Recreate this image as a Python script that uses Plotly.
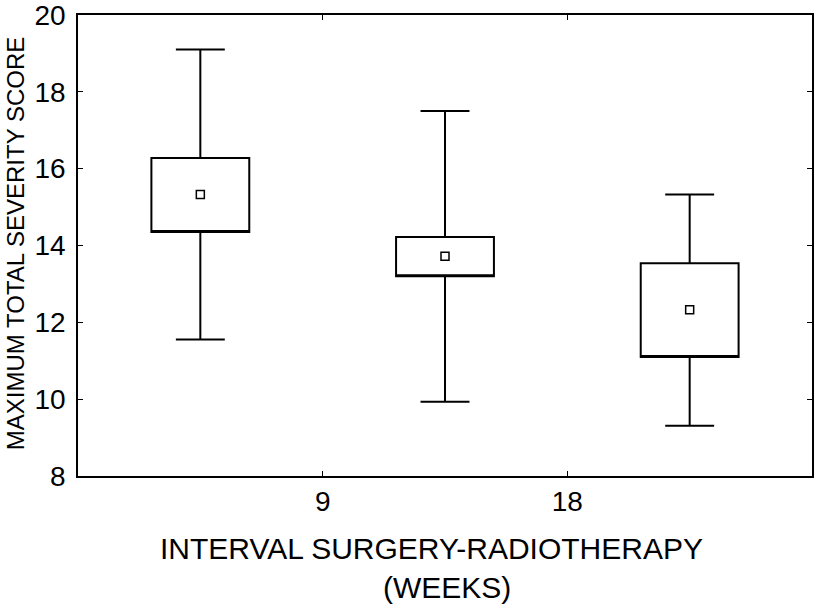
import plotly.graph_objects as go

positions = [4.5, 13.5, 22.5]
upper_whisker = [19.1, 17.5, 15.33]
box_top = [16.28, 14.22, 13.54]
means = [15.33, 13.72, 12.33]
box_bottom = [14.35, 13.2, 11.1]
lower_whisker = [11.55, 9.93, 9.31]

x_tick_vals = [9, 18]
x_tick_text = ["9", "18"]
y_tick_vals = [8, 10, 12, 14, 16, 18, 20]

x_title_1 = "INTERVAL SURGERY-RADIOTHERAPY"
x_title_2 = "(WEEKS)"
y_title = "MAXIMUM TOTAL SEVERITY SCORE"

FONT = "Liberation Sans, Arial, sans-serif"

fig = go.Figure()
fig.add_trace(go.Box(
    x=positions,
    q1=box_bottom,
    median=box_bottom,
    q3=box_top,
    lowerfence=lower_whisker,
    upperfence=upper_whisker,
    width=3.6,
    whiskerwidth=0.5,
    fillcolor="white",
    line=dict(color="black", width=2),
    showlegend=False,
    hoverinfo="skip",
))
fig.add_trace(go.Scatter(
    x=positions,
    y=means,
    mode="markers",
    marker=dict(symbol="square", size=8, color="white",
                line=dict(color="black", width=1.5)),
    showlegend=False,
    hoverinfo="skip",
))

fig.update_layout(
    width=816, height=604,
    margin=dict(l=78, r=4, t=15, b=128),
    paper_bgcolor="white", plot_bgcolor="white",
    font=dict(family=FONT, color="black"),
    showlegend=False,
)
fig.update_xaxes(
    range=[0, 27], tickvals=x_tick_vals, ticktext=x_tick_text,
    ticks="inside", ticklen=5, tickwidth=1, tickcolor="black",
    showline=True, linecolor="black", linewidth=1.5, mirror="allticks",
    showgrid=False, zeroline=False, automargin=False,
    tickfont=dict(size=28, family=FONT), ticklabelstandoff=0,
    ticklabeloverflow="allow",
)
fig.update_yaxes(
    range=[8, 20], tickvals=y_tick_vals,
    ticks="inside", ticklen=5, tickwidth=1, tickcolor="black",
    showline=True, linecolor="black", linewidth=1.5, mirror="allticks",
    showgrid=False, zeroline=False, automargin=False,
    tickfont=dict(size=28, family=FONT), ticklabelstandoff=5,
    ticklabeloverflow="allow",
)

fig.add_annotation(text=x_title_1, xref="paper", yref="paper",
                   x=0.482, y=-0.158, xanchor="center", yanchor="middle",
                   showarrow=False, font=dict(size=30, family=FONT))
fig.add_annotation(text=x_title_2, xref="paper", yref="paper",
                   x=0.5027, y=-0.241, xanchor="center", yanchor="middle",
                   showarrow=False, font=dict(size=30, family=FONT))
fig.add_annotation(text=y_title, xref="paper", yref="paper",
                   x=-0.0858, y=0.503, xanchor="center", yanchor="middle",
                   textangle=-90, showarrow=False,
                   font=dict(size=24, family=FONT))

fig.write_html(
    "out.html",
    config={"displayModeBar": False},
    post_script="document.body.style.margin='0';document.body.style.overflow='hidden';",
)
